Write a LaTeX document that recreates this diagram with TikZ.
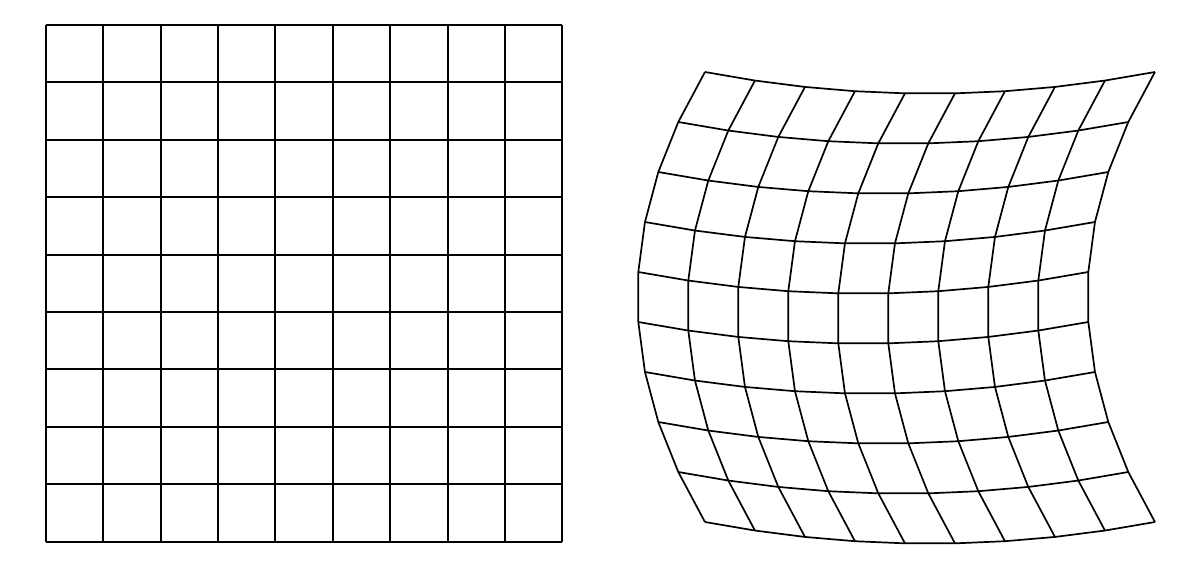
\documentclass[tikz,border=0pt]{standalone}
\begin{document}
\begin{tikzpicture}[x=1pt,y=-1pt,
  flatgrid/.style={line width=2pt,black},
  warpgrid/.style={line width=1.7pt,black,line join=miter}]
\useasboundingbox[fill=white] (0,0) rectangle (1200,582);
% left regular grid
\foreach \i in {0,...,9}{
  \draw[flatgrid] ({45.7+57.4*\i},25) -- ({45.7+57.4*\i},541.6);
  \draw[flatgrid] (45.7,{25+57.4*\i}) -- (562.3,{25+57.4*\i});
}
% right warped grid
\foreach \v in {-4.5,-3.5,...,4.5}{
  \draw[warpgrid] plot[samples at={-4.5,-3.5,...,4.5},variable=\u]
    ({863.3+50*\u+3.333*(\v*\v-0.25)},{297+50*\v+1.067*(20.25-\u*\u)});
}
\foreach \u in {-4.5,-3.5,...,4.5}{
  \draw[warpgrid] plot[samples at={-4.5,-3.5,...,4.5},variable=\v]
    ({863.3+50*\u+3.333*(\v*\v-0.25)},{297+50*\v+1.067*(20.25-\u*\u)});
}
\end{tikzpicture}
\end{document}
